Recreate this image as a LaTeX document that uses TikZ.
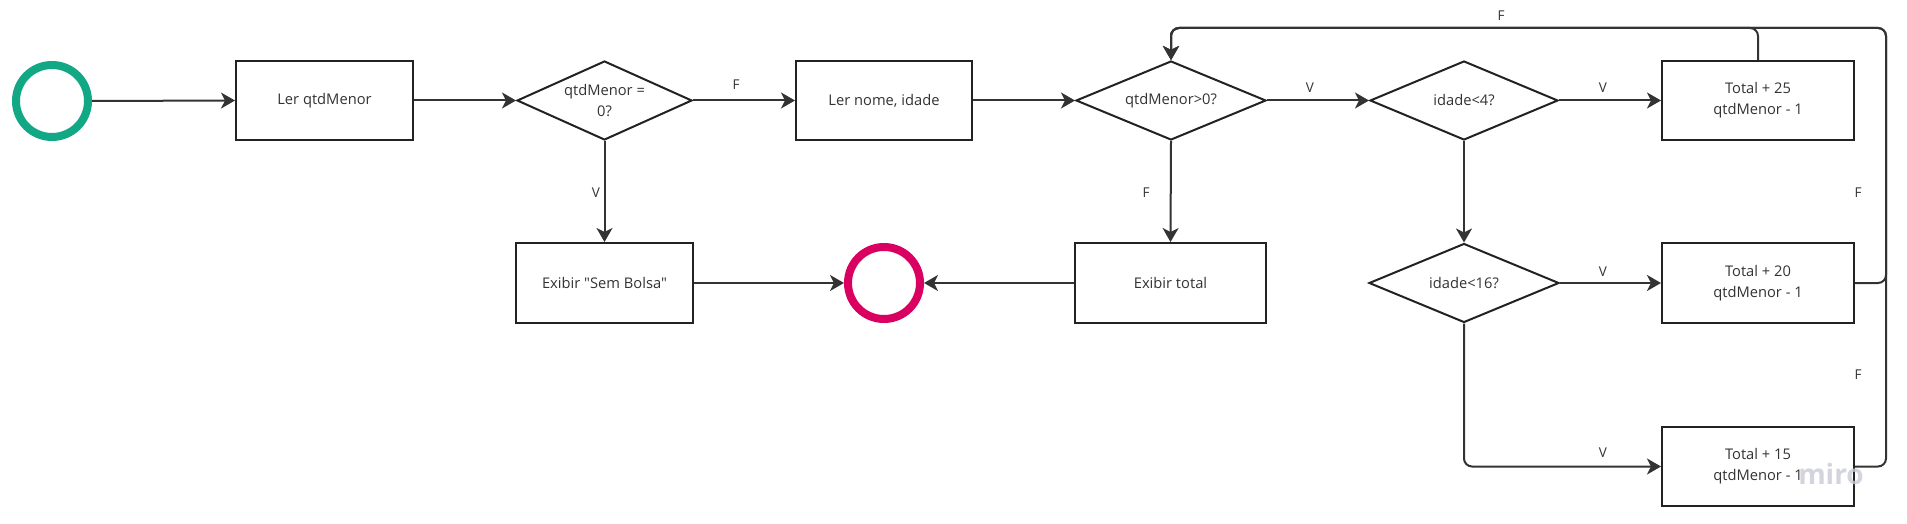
\documentclass[tikz,border=0pt]{standalone}
\usepackage{fontspec}
\setmainfont{Open Sans}[Ligatures=TeXOff]
\usetikzlibrary{shapes.geometric,arrows.meta}
\definecolor{startgreen}{RGB}{18,167,133}
\definecolor{endpink}{RGB}{217,0,98}
\definecolor{ink}{RGB}{51,51,51}
\definecolor{boxline}{RGB}{34,34,34}
\definecolor{wmark}{RGB}{200,202,214}
\begin{document}
\begin{tikzpicture}[x=1pt,y=-1pt,
  font=\fontsize{14.7}{21}\selectfont,
  box/.style={draw=boxline, line width=2pt, fill=white, inner sep=0pt, align=center, text=ink,
              minimum width=177pt, minimum height=79pt},
  dec/.style={diamond, aspect=2.2, draw=boxline, line width=2pt, fill=white, inner sep=0pt,
              align=center, text=ink, minimum width=190pt, minimum height=79pt},
  ring/.style={circle, line width=8pt, minimum size=72pt, inner sep=0pt},
  conn/.style={draw=ink, line width=2pt, rounded corners=8pt,
               -{Stealth[length=14pt,width=16pt,inset=4pt]}},
  lbl/.style={font=\fontsize{13.5}{15}\selectfont, text=ink, inner sep=0pt}]
\fill[white] (0,0) rectangle (1907,524);
\useasboundingbox (0,0) rectangle (1907,524);

% nodes
\node[ring, draw=startgreen] (start) at (52,101) {};
\node[box] (b1) at (324.5,100.5) {Ler qtdMenor};
\node[dec, minimum width=175pt] (d1) at (604.5,100.5) {qtdMenor =\\0?};
\node[box, minimum width=176pt] (bn) at (884,100.5) {Ler nome, idade};
\node[dec] (d2) at (1171,100.5) {qtdMenor>0?};
\node[dec, minimum width=188pt] (d3) at (1464,100.5) {idade<4?};
\node[box, minimum width=192pt] (b25) at (1758,100.5) {Total + 25\\qtdMenor - 1};
\node[box, minimum height=80pt] (bs) at (604.5,283) {Exibir "Sem Bolsa"};
\node[ring, draw=endpink] (end) at (884,283) {};
\node[box, minimum width=191pt, minimum height=80pt] (bt) at (1170.5,283) {Exibir total};
\node[dec] (d4) at (1464,283) {idade<16?};
\node[box, minimum width=192pt, minimum height=80pt] (b20) at (1758,283) {Total + 20\\qtdMenor - 1};
\node[box, minimum width=192pt] (b15) at (1758,466.5) {Total + 15\\qtdMenor - 1};

\coordinate (topy) at (0,28);
\coordinate (rx) at (1886,0);

% connectors
\draw[conn] (start.east) -- (b1.west);
\draw[conn] (b1.east) -- (d1.west);
\draw[conn] (d1.east) -- (bn.west);
\draw[conn] (bn.east) -- (d2.west);
\draw[conn] (d2.east) -- (d3.west);
\draw[conn] (d3.east) -- (b25.west);
\draw[conn] (d1.south) -- (bs.north);
\draw[conn] (bs.east) -- (end.west);
\draw[conn] (bt.west) -- (end.east);
\draw[conn] (d2.south) -- (bt.north);
\draw[conn] (d3.south) -- (d4.north);
\draw[conn] (d4.east) -- (b20.west);
\draw[conn] (d4.south) |- (b15.west);
\draw[conn] (b15.east) -- (b15.east -| rx) -- (rx |- topy) -| (d2.north);
\draw[conn] (b20.east) -- (b20.east -| rx) -- (rx |- topy) -| (d2.north);
\draw[conn] (b25.north) -- (b25.north |- topy) -| (d2.north);

% labels
\node[lbl] (lf1) at (736,85) {F};
\node[lbl] (lv1) at (596,193) {V};
\node[lbl] (lv2) at (1310,88) {V};
\node[lbl] (lf2) at (1146,193) {F};
\node[lbl] (lv3) at (1603,88) {V};
\node[lbl] (lf3) at (1501,16) {F};
\node[lbl] (lf4) at (1858,193) {F};
\node[lbl] (lv4) at (1603,272) {V};
\node[lbl] (lf5) at (1858,375) {F};
\node[lbl] (lv5) at (1603,453) {V};

% watermark
\node[text=wmark, opacity=0.8, font=\fontsize{28}{30}\bfseries, inner sep=0pt] (wm) at (1831,474) {miro};
\end{tikzpicture}
\end{document}
